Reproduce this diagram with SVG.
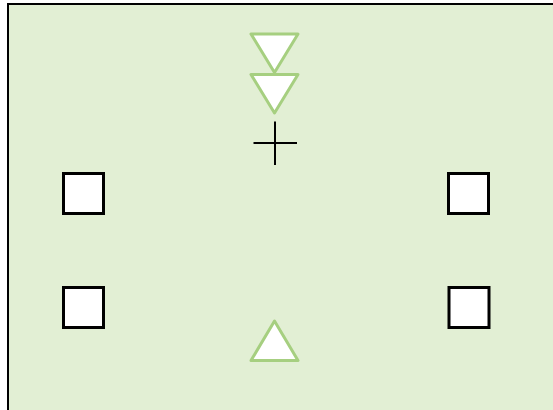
<svg xmlns="http://www.w3.org/2000/svg" width="553" height="410" viewBox="0 0 553 410">
<style>
.bg{fill:#E2EFD4;stroke:#000;stroke-width:2}
.tri{fill:#fff;stroke:#A6CF80;stroke-width:3;stroke-linejoin:round}
.sq{fill:#fff;stroke:#000;stroke-width:3}
.cr{stroke:#000;stroke-width:2;fill:none}
</style>
<rect class="bg" x="8" y="4" width="560" height="420"/>
<g id="tri-top1"><polygon class="tri" points="251,34 298,34 274.5,72.5"/></g>
<g id="tri-top2"><polygon class="tri" points="251,74.5 298,74.5 274.5,113"/></g>
<g id="cross"><path class="cr" d="M275,121.5V165M253.5,143H297"/></g>
<g id="sq-lt"><rect class="sq" x="63.5" y="173.5" width="40" height="40"/></g>
<g id="sq-lb"><rect class="sq" x="63.5" y="287.5" width="40" height="40"/></g>
<g id="sq-rt"><rect class="sq" x="448.5" y="173.5" width="40" height="40"/></g>
<g id="sq-rb"><rect class="sq" x="449" y="287.5" width="40" height="40"/></g>
<g id="tri-bottom"><polygon class="tri" points="274.5,321 298,360.5 251,360.5"/></g>
<g id="connectors"></g>
</svg>
